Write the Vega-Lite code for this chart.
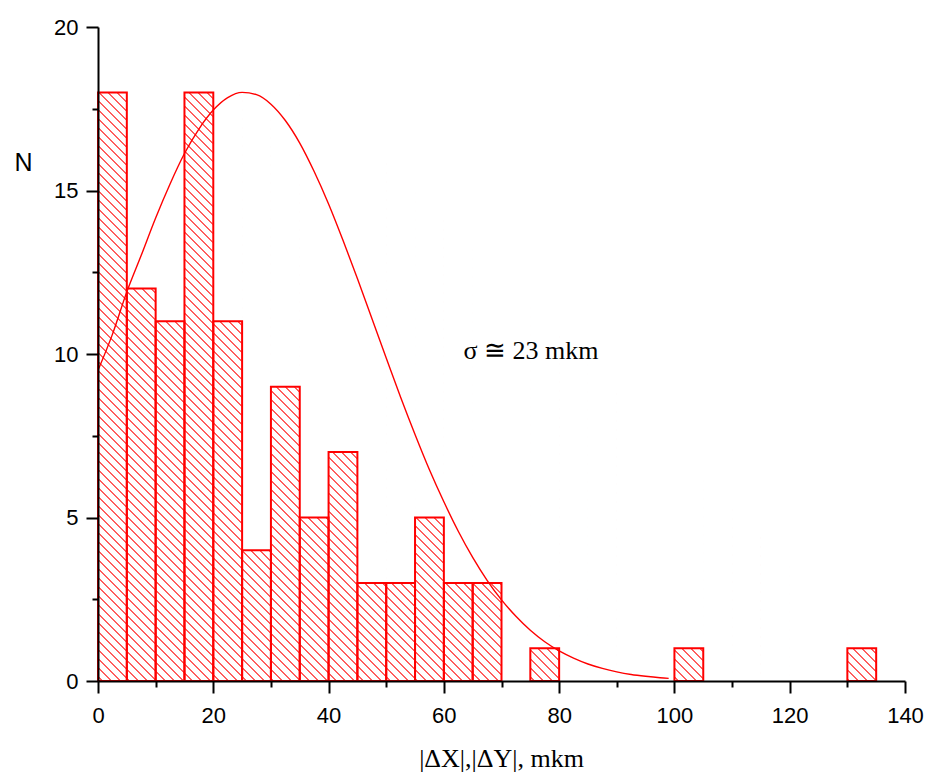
{
"$schema":"https://vega.github.io/schema/vega-lite/v6.json",
"width":807,"height":654,
"autosize":{"type":"none"},
"padding":{"left":98,"top":27,"right":21,"bottom":95},
"background":"white",
"config":{"view":{"stroke":null}},
"datasets":{
"bins":[
{"x0":0,"x1":5,"n":18},{"x0":5,"x1":10,"n":12},{"x0":10,"x1":15,"n":11},{"x0":15,"x1":20,"n":18},
{"x0":20,"x1":25,"n":11},{"x0":25,"x1":30,"n":4},{"x0":30,"x1":35,"n":9},{"x0":35,"x1":40,"n":5},
{"x0":40,"x1":45,"n":7},{"x0":45,"x1":50,"n":3},{"x0":50,"x1":55,"n":3},{"x0":55,"x1":60,"n":5},
{"x0":60,"x1":65,"n":3},{"x0":65,"x1":70,"n":3},{"x0":70,"x1":75,"n":0},{"x0":75,"x1":80,"n":1},
{"x0":80,"x1":85,"n":0},{"x0":85,"x1":90,"n":0},{"x0":90,"x1":95,"n":0},{"x0":95,"x1":100,"n":0},
{"x0":100,"x1":105,"n":1},{"x0":105,"x1":110,"n":0},{"x0":110,"x1":115,"n":0},{"x0":115,"x1":120,"n":0},
{"x0":120,"x1":125,"n":0},{"x0":125,"x1":130,"n":0},{"x0":130,"x1":135,"n":1}
],
"curve":[
{"x":0,"y":9.5},{"x":2.5,"y":10.6},{"x":5,"y":11.9},{"x":7.5,"y":13.02},{"x":10,"y":14.16},
{"x":12.5,"y":15.2},{"x":15,"y":16.13},{"x":17.5,"y":16.88},{"x":20,"y":17.46},{"x":22.5,"y":17.84},
{"x":25,"y":18.0},{"x":27.5,"y":17.93},{"x":30,"y":17.64},{"x":32.5,"y":17.14},{"x":35,"y":16.45},
{"x":37.5,"y":15.58},{"x":40,"y":14.59},{"x":42.5,"y":13.48},{"x":45,"y":12.31},{"x":47.5,"y":11.09},
{"x":50,"y":9.88},{"x":52.5,"y":8.68},{"x":55,"y":7.54},{"x":57.5,"y":6.46},{"x":60,"y":5.48},
{"x":62.5,"y":4.58},{"x":65,"y":3.78},{"x":67.5,"y":3.08},{"x":70,"y":2.48},{"x":72.5,"y":1.98},
{"x":75,"y":1.55},{"x":77.5,"y":1.2},{"x":80,"y":0.92},{"x":82.5,"y":0.7},{"x":85,"y":0.52},
{"x":87.5,"y":0.385},{"x":90,"y":0.28},{"x":92.5,"y":0.2},{"x":95,"y":0.144},{"x":97.5,"y":0.1},
{"x":99,"y":0.081}
],
"note":[{"x":75.1,"y":9.85,"label":"σ ≅ 23 mkm"}]
},
"layer":[
{
"data":{"name":"bins"},
"transform":[{"aggregate":[{"op":"min","field":"x0","as":"a"},{"op":"max","field":"x1","as":"b"},{"op":"max","field":"n","as":"m"}]}],
"mark":{"type":"rect","fill":{"gradient":"linear","x1":0,"y1":1,"x2":0.73566,"y2":0.44356,"stops":[
{"offset":0.0035,"color":"#fff"},{"offset":0.005,"color":"#f00"},{"offset":0.0065,"color":"#fff"},
{"offset":0.0135,"color":"#fff"},{"offset":0.015,"color":"#f00"},{"offset":0.0165,"color":"#fff"},
{"offset":0.0235,"color":"#fff"},{"offset":0.025,"color":"#f00"},{"offset":0.0265,"color":"#fff"},
{"offset":0.0335,"color":"#fff"},{"offset":0.035,"color":"#f00"},{"offset":0.0365,"color":"#fff"},
{"offset":0.0435,"color":"#fff"},{"offset":0.045,"color":"#f00"},{"offset":0.0465,"color":"#fff"},
{"offset":0.0535,"color":"#fff"},{"offset":0.055,"color":"#f00"},{"offset":0.0565,"color":"#fff"},
{"offset":0.0635,"color":"#fff"},{"offset":0.065,"color":"#f00"},{"offset":0.0665,"color":"#fff"},
{"offset":0.0735,"color":"#fff"},{"offset":0.075,"color":"#f00"},{"offset":0.0765,"color":"#fff"},
{"offset":0.0835,"color":"#fff"},{"offset":0.085,"color":"#f00"},{"offset":0.0865,"color":"#fff"},
{"offset":0.0935,"color":"#fff"},{"offset":0.095,"color":"#f00"},{"offset":0.0965,"color":"#fff"},
{"offset":0.1035,"color":"#fff"},{"offset":0.105,"color":"#f00"},{"offset":0.1065,"color":"#fff"},
{"offset":0.1135,"color":"#fff"},{"offset":0.115,"color":"#f00"},{"offset":0.1165,"color":"#fff"},
{"offset":0.1235,"color":"#fff"},{"offset":0.125,"color":"#f00"},{"offset":0.1265,"color":"#fff"},
{"offset":0.1335,"color":"#fff"},{"offset":0.135,"color":"#f00"},{"offset":0.1365,"color":"#fff"},
{"offset":0.1435,"color":"#fff"},{"offset":0.145,"color":"#f00"},{"offset":0.1465,"color":"#fff"},
{"offset":0.1535,"color":"#fff"},{"offset":0.155,"color":"#f00"},{"offset":0.1565,"color":"#fff"},
{"offset":0.1635,"color":"#fff"},{"offset":0.165,"color":"#f00"},{"offset":0.1665,"color":"#fff"},
{"offset":0.1735,"color":"#fff"},{"offset":0.175,"color":"#f00"},{"offset":0.1765,"color":"#fff"},
{"offset":0.1835,"color":"#fff"},{"offset":0.185,"color":"#f00"},{"offset":0.1865,"color":"#fff"},
{"offset":0.1935,"color":"#fff"},{"offset":0.195,"color":"#f00"},{"offset":0.1965,"color":"#fff"},
{"offset":0.2035,"color":"#fff"},{"offset":0.205,"color":"#f00"},{"offset":0.2065,"color":"#fff"},
{"offset":0.2135,"color":"#fff"},{"offset":0.215,"color":"#f00"},{"offset":0.2165,"color":"#fff"},
{"offset":0.2235,"color":"#fff"},{"offset":0.225,"color":"#f00"},{"offset":0.2265,"color":"#fff"},
{"offset":0.2335,"color":"#fff"},{"offset":0.235,"color":"#f00"},{"offset":0.2365,"color":"#fff"},
{"offset":0.2435,"color":"#fff"},{"offset":0.245,"color":"#f00"},{"offset":0.2465,"color":"#fff"},
{"offset":0.2535,"color":"#fff"},{"offset":0.255,"color":"#f00"},{"offset":0.2565,"color":"#fff"},
{"offset":0.2635,"color":"#fff"},{"offset":0.265,"color":"#f00"},{"offset":0.2665,"color":"#fff"},
{"offset":0.2735,"color":"#fff"},{"offset":0.275,"color":"#f00"},{"offset":0.2765,"color":"#fff"},
{"offset":0.2835,"color":"#fff"},{"offset":0.285,"color":"#f00"},{"offset":0.2865,"color":"#fff"},
{"offset":0.2935,"color":"#fff"},{"offset":0.295,"color":"#f00"},{"offset":0.2965,"color":"#fff"},
{"offset":0.3035,"color":"#fff"},{"offset":0.305,"color":"#f00"},{"offset":0.3065,"color":"#fff"},
{"offset":0.3135,"color":"#fff"},{"offset":0.315,"color":"#f00"},{"offset":0.3165,"color":"#fff"},
{"offset":0.3235,"color":"#fff"},{"offset":0.325,"color":"#f00"},{"offset":0.3265,"color":"#fff"},
{"offset":0.3335,"color":"#fff"},{"offset":0.335,"color":"#f00"},{"offset":0.3365,"color":"#fff"},
{"offset":0.3435,"color":"#fff"},{"offset":0.345,"color":"#f00"},{"offset":0.3465,"color":"#fff"},
{"offset":0.3535,"color":"#fff"},{"offset":0.355,"color":"#f00"},{"offset":0.3565,"color":"#fff"},
{"offset":0.3635,"color":"#fff"},{"offset":0.365,"color":"#f00"},{"offset":0.3665,"color":"#fff"},
{"offset":0.3735,"color":"#fff"},{"offset":0.375,"color":"#f00"},{"offset":0.3765,"color":"#fff"},
{"offset":0.3835,"color":"#fff"},{"offset":0.385,"color":"#f00"},{"offset":0.3865,"color":"#fff"},
{"offset":0.3935,"color":"#fff"},{"offset":0.395,"color":"#f00"},{"offset":0.3965,"color":"#fff"},
{"offset":0.4035,"color":"#fff"},{"offset":0.405,"color":"#f00"},{"offset":0.4065,"color":"#fff"},
{"offset":0.4135,"color":"#fff"},{"offset":0.415,"color":"#f00"},{"offset":0.4165,"color":"#fff"},
{"offset":0.4235,"color":"#fff"},{"offset":0.425,"color":"#f00"},{"offset":0.4265,"color":"#fff"},
{"offset":0.4335,"color":"#fff"},{"offset":0.435,"color":"#f00"},{"offset":0.4365,"color":"#fff"},
{"offset":0.4435,"color":"#fff"},{"offset":0.445,"color":"#f00"},{"offset":0.4465,"color":"#fff"},
{"offset":0.4535,"color":"#fff"},{"offset":0.455,"color":"#f00"},{"offset":0.4565,"color":"#fff"},
{"offset":0.4635,"color":"#fff"},{"offset":0.465,"color":"#f00"},{"offset":0.4665,"color":"#fff"},
{"offset":0.4735,"color":"#fff"},{"offset":0.475,"color":"#f00"},{"offset":0.4765,"color":"#fff"},
{"offset":0.4835,"color":"#fff"},{"offset":0.485,"color":"#f00"},{"offset":0.4865,"color":"#fff"},
{"offset":0.4935,"color":"#fff"},{"offset":0.495,"color":"#f00"},{"offset":0.4965,"color":"#fff"},
{"offset":0.5035,"color":"#fff"},{"offset":0.505,"color":"#f00"},{"offset":0.5065,"color":"#fff"},
{"offset":0.5135,"color":"#fff"},{"offset":0.515,"color":"#f00"},{"offset":0.5165,"color":"#fff"},
{"offset":0.5235,"color":"#fff"},{"offset":0.525,"color":"#f00"},{"offset":0.5265,"color":"#fff"},
{"offset":0.5335,"color":"#fff"},{"offset":0.535,"color":"#f00"},{"offset":0.5365,"color":"#fff"},
{"offset":0.5435,"color":"#fff"},{"offset":0.545,"color":"#f00"},{"offset":0.5465,"color":"#fff"},
{"offset":0.5535,"color":"#fff"},{"offset":0.555,"color":"#f00"},{"offset":0.5565,"color":"#fff"},
{"offset":0.5635,"color":"#fff"},{"offset":0.565,"color":"#f00"},{"offset":0.5665,"color":"#fff"},
{"offset":0.5735,"color":"#fff"},{"offset":0.575,"color":"#f00"},{"offset":0.5765,"color":"#fff"},
{"offset":0.5835,"color":"#fff"},{"offset":0.585,"color":"#f00"},{"offset":0.5865,"color":"#fff"},
{"offset":0.5935,"color":"#fff"},{"offset":0.595,"color":"#f00"},{"offset":0.5965,"color":"#fff"},
{"offset":0.6035,"color":"#fff"},{"offset":0.605,"color":"#f00"},{"offset":0.6065,"color":"#fff"},
{"offset":0.6135,"color":"#fff"},{"offset":0.615,"color":"#f00"},{"offset":0.6165,"color":"#fff"},
{"offset":0.6235,"color":"#fff"},{"offset":0.625,"color":"#f00"},{"offset":0.6265,"color":"#fff"},
{"offset":0.6335,"color":"#fff"},{"offset":0.635,"color":"#f00"},{"offset":0.6365,"color":"#fff"},
{"offset":0.6435,"color":"#fff"},{"offset":0.645,"color":"#f00"},{"offset":0.6465,"color":"#fff"},
{"offset":0.6535,"color":"#fff"},{"offset":0.655,"color":"#f00"},{"offset":0.6565,"color":"#fff"},
{"offset":0.6635,"color":"#fff"},{"offset":0.665,"color":"#f00"},{"offset":0.6665,"color":"#fff"},
{"offset":0.6735,"color":"#fff"},{"offset":0.675,"color":"#f00"},{"offset":0.6765,"color":"#fff"},
{"offset":0.6835,"color":"#fff"},{"offset":0.685,"color":"#f00"},{"offset":0.6865,"color":"#fff"},
{"offset":0.6935,"color":"#fff"},{"offset":0.695,"color":"#f00"},{"offset":0.6965,"color":"#fff"},
{"offset":0.7035,"color":"#fff"},{"offset":0.705,"color":"#f00"},{"offset":0.7065,"color":"#fff"},
{"offset":0.7135,"color":"#fff"},{"offset":0.715,"color":"#f00"},{"offset":0.7165,"color":"#fff"},
{"offset":0.7235,"color":"#fff"},{"offset":0.725,"color":"#f00"},{"offset":0.7265,"color":"#fff"},
{"offset":0.7335,"color":"#fff"},{"offset":0.735,"color":"#f00"},{"offset":0.7365,"color":"#fff"},
{"offset":0.7435,"color":"#fff"},{"offset":0.745,"color":"#f00"},{"offset":0.7465,"color":"#fff"},
{"offset":0.7535,"color":"#fff"},{"offset":0.755,"color":"#f00"},{"offset":0.7565,"color":"#fff"},
{"offset":0.7635,"color":"#fff"},{"offset":0.765,"color":"#f00"},{"offset":0.7665,"color":"#fff"},
{"offset":0.7735,"color":"#fff"},{"offset":0.775,"color":"#f00"},{"offset":0.7765,"color":"#fff"},
{"offset":0.7835,"color":"#fff"},{"offset":0.785,"color":"#f00"},{"offset":0.7865,"color":"#fff"},
{"offset":0.7935,"color":"#fff"},{"offset":0.795,"color":"#f00"},{"offset":0.7965,"color":"#fff"},
{"offset":0.8035,"color":"#fff"},{"offset":0.805,"color":"#f00"},{"offset":0.8065,"color":"#fff"},
{"offset":0.8135,"color":"#fff"},{"offset":0.815,"color":"#f00"},{"offset":0.8165,"color":"#fff"},
{"offset":0.8235,"color":"#fff"},{"offset":0.825,"color":"#f00"},{"offset":0.8265,"color":"#fff"},
{"offset":0.8335,"color":"#fff"},{"offset":0.835,"color":"#f00"},{"offset":0.8365,"color":"#fff"},
{"offset":0.8435,"color":"#fff"},{"offset":0.845,"color":"#f00"},{"offset":0.8465,"color":"#fff"},
{"offset":0.8535,"color":"#fff"},{"offset":0.855,"color":"#f00"},{"offset":0.8565,"color":"#fff"},
{"offset":0.8635,"color":"#fff"},{"offset":0.865,"color":"#f00"},{"offset":0.8665,"color":"#fff"},
{"offset":0.8735,"color":"#fff"},{"offset":0.875,"color":"#f00"},{"offset":0.8765,"color":"#fff"},
{"offset":0.8835,"color":"#fff"},{"offset":0.885,"color":"#f00"},{"offset":0.8865,"color":"#fff"},
{"offset":0.8935,"color":"#fff"},{"offset":0.895,"color":"#f00"},{"offset":0.8965,"color":"#fff"}
]}},
"encoding":{
"x":{"field":"a","type":"quantitative","scale":{"domain":[0,140],"nice":false,"zero":false},
"axis":{"values":[0,10,20,30,40,50,60,70,80,90,100,110,120,130,140],
"labelExpr":"datum.value % 20 === 0 ? datum.label : ''",
"tickSize":{"condition":{"test":"datum.value % 20 === 0","value":12},"value":6},
"grid":false,"title":"|ΔX|,|ΔY|, mkm","titleFont":"Liberation Serif","titleFontSize":26,"titleFontWeight":"normal",
"titleColor":"#000","titleX":403,"titleY":85,"titleBaseline":"alphabetic","titleAlign":"center",
"labelFont":"Liberation Sans","labelFontSize":22,"labelColor":"#000","labelPadding":12,"labelFlush":false,"labelOverlap":false,
"domainColor":"#000","domainWidth":2,"tickColor":"#000","tickWidth":2,"zindex":2}},
"x2":{"field":"b"},
"y":{"field":"m","type":"quantitative","scale":{"domain":[0,20],"nice":false,"zero":true},
"axis":{"values":[0,2.5,5,7.5,10,12.5,15,17.5,20],
"labelExpr":"datum.value % 5 === 0 ? datum.label : ''",
"tickSize":{"condition":{"test":"datum.value % 5 === 0","value":12},"value":6},
"grid":false,"title":"N","titleFont":"Liberation Sans","titleFontSize":25,"titleFontWeight":"normal","titleColor":"#000",
"titleAngle":0,"titleX":-75,"titleY":143,"titleAlign":"center","titleBaseline":"alphabetic",
"labelFont":"Liberation Sans","labelFontSize":22,"labelColor":"#000","labelPadding":8,"labelFlush":false,"labelOverlap":false,
"domainColor":"#000","domainWidth":2,"tickColor":"#000","tickWidth":2,"zindex":2}},
"y2":{"datum":0}
}
},
{
"data":{"name":"bins"},
"mark":{"type":"rect","fill":"#fff","stroke":"#fff","strokeWidth":1},
"encoding":{
"x":{"field":"x0","type":"quantitative"},
"x2":{"field":"x1"},
"y":{"field":"n","type":"quantitative"},
"y2":{"datum":20}
}
},
{
"data":{"name":"bins"},
"transform":[{"filter":"datum.n > 0"}],
"mark":{"type":"rect","fill":null,"fillOpacity":0,"stroke":"#ff0000","strokeWidth":2},
"encoding":{
"x":{"field":"x0","type":"quantitative"},
"x2":{"field":"x1"},
"y":{"field":"n","type":"quantitative"},
"y2":{"datum":0}
}
},
{
"data":{"name":"curve"},
"mark":{"type":"line","stroke":"#ff0000","strokeWidth":1.4,"interpolate":"monotone"},
"encoding":{
"x":{"field":"x","type":"quantitative"},
"y":{"field":"y","type":"quantitative"}
}
},
{
"data":{"name":"note"},
"mark":{"type":"text","font":"Liberation Serif","fontSize":26,"color":"#000","align":"center","baseline":"alphabetic"},
"encoding":{
"x":{"field":"x","type":"quantitative"},
"y":{"field":"y","type":"quantitative"},
"text":{"field":"label"}
}
}
]
}
